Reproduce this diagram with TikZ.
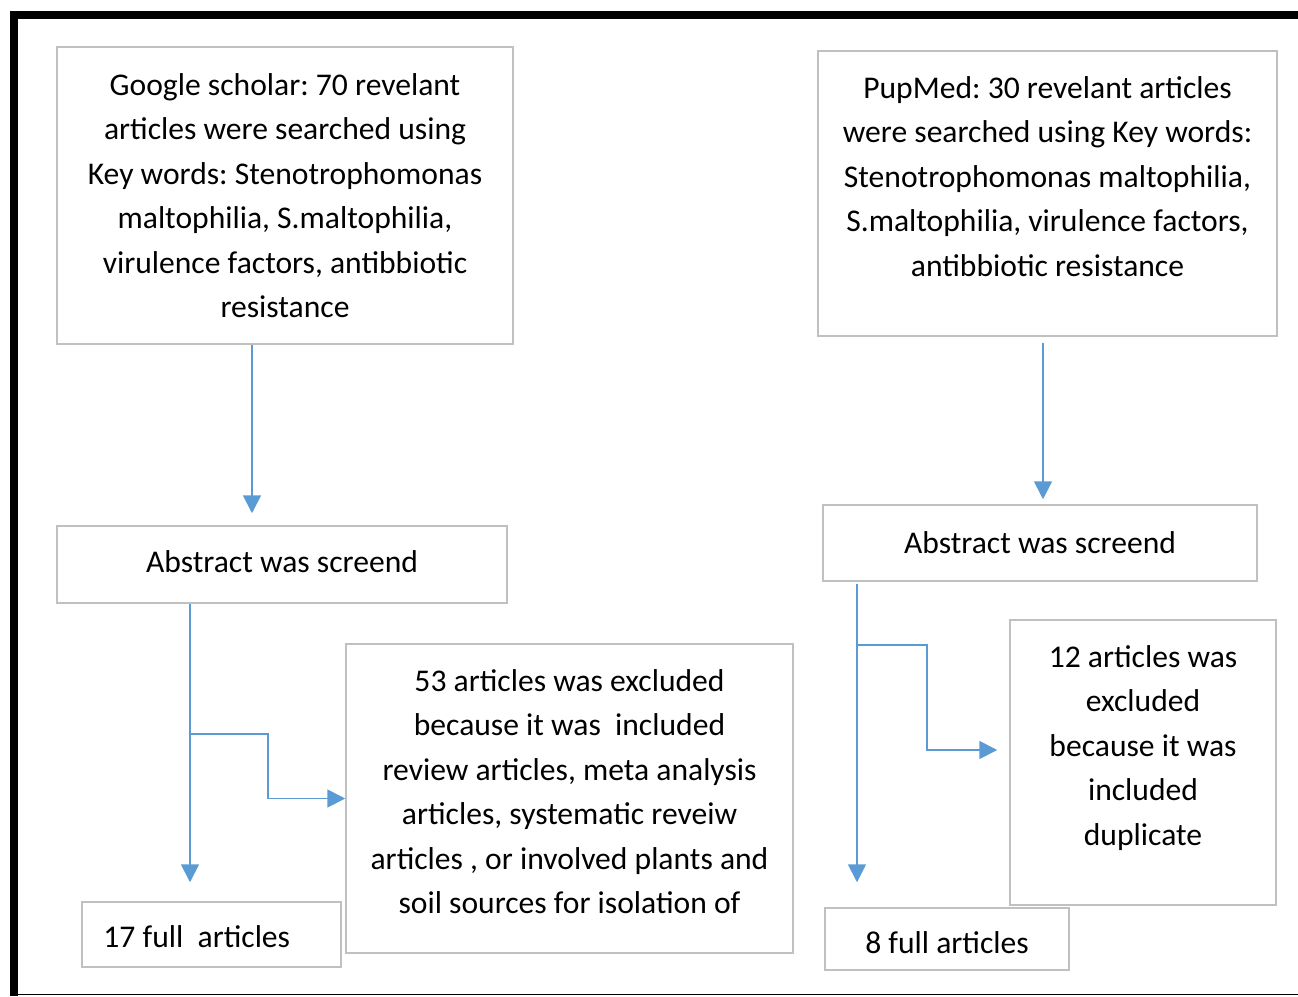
\documentclass[tikz,border=0pt]{standalone}
\usepackage{fontspec}
\setmainfont{Carlito}
\usepackage{xcolor}
\usetikzlibrary{arrows.meta, calc, positioning}

\definecolor{boxgray}{HTML}{C0C0C0}
\definecolor{flowblue}{HTML}{5B9BD5}
\frenchspacing

\begin{document}
\begin{tikzpicture}[x=1pt, y=-1pt,
        box/.style={draw=boxgray, line width=1.5pt, rectangle, inner sep=0pt, align=center,
            font=\fontsize{31.6}{44.5}\selectfont},
        txt/.style={inner sep=0pt, align=center, font=\fontsize{31.6}{44.5}\selectfont},
        flow/.style={draw=flowblue, line width=1.8pt, -{Triangle[length=18pt, width=18pt]}}]
    \useasboundingbox (0,0) rectangle (1298,996);

    % frame
    \fill (10,11) rectangle (1298,19);
    \fill (10,11) rectangle (18,996);
    \draw[line width=1.2pt] (10,994.5) -- (1298,994.5);

    % left column
    \node[box, minimum width=456pt, minimum height=297pt] (gs) at (285,195.5)
        {Google scholar: 70 revelant\\articles were searched using\\Key words: Stenotrophomonas\\maltophilia, S.maltophilia,\\virulence factors, antibbiotic\\resistance};
    \node[box, minimum width=450pt, minimum height=77pt] (absl) at (282,564.5) {};
    \node[txt] (absl text) at ($(absl.center)+(0,-3)$) {Abstract was screend};
    \node[box, minimum width=447pt, minimum height=309pt] (exc53) at (569.5,798.5) {};
    \node[txt, anchor=north] (exc53 text) at ($(exc53.north)+(0,26)$)
        {53 articles was excluded\\because it was~ included\\review articles, meta analysis\\articles, systematic reveiw\\articles , or involved plants and\\soil sources for isolation of};
    \node[box, minimum width=259pt, minimum height=65pt] (full17) at (211.5,934.5) {};
    \node[txt, anchor=west] (full17 text) at ($(full17.west)+(22,2)$) {17 full\ \ articles};

    % right column
    \node[box, minimum width=459pt, minimum height=285pt] (pm) at (1047.5,193.5) {};
    \node[txt, anchor=north] (pm text) at ($(pm.north)+(0,26)$)
        {PupMed: 30 revelant articles\\were searched using Key words:\\Stenotrophomonas maltophilia,\\S.maltophilia, virulence factors,\\antibbiotic resistance};
    \node[box, minimum width=434pt, minimum height=76pt] (absr) at (1040,543) {Abstract was screend};
    \node[box, minimum width=266pt, minimum height=285pt] (exc12) at (1143,762.5) {};
    \node[txt, anchor=north] (exc12 text) at ($(exc12.north)+(0,26)$)
        {12 articles was\\excluded\\because it was\\included\\duplicate};
    \node[box, minimum width=244pt, minimum height=62pt] (full8) at (947,939) {};
    \node[txt] (full8 text) at ($(full8.center)+(0,4)$) {8 full articles};

    % connectors
    \draw[flow, shorten >=12pt] ([xshift=-33pt]gs.south) -- ([xshift=-33pt]gs.south |- absl.north);
    \draw[flow, shorten >=19pt] ([xshift=-92pt]absl.south) -- ([xshift=-92pt]absl.south |- full17.north);
    \coordinate (lsplit) at ($(absl.south)+(-92,130)$);
    \draw[flow] (lsplit) -- ++(78,0) |- (exc53.west);

    \draw[flow, shorten <=6pt, shorten >=5pt] ([xshift=-4.5pt]pm.south) -- ([xshift=-4.5pt]pm.south |- absr.north);
    \draw[flow, shorten <=2pt, shorten >=25pt] ([xshift=-183pt]absr.south) -- ([xshift=-183pt]absr.south |- full8.north);
    \coordinate (rsplit) at ($(absr.south)+(-183,63)$);
    \draw[flow, shorten >=12pt] (rsplit) -- ++(70,0) |- ($(exc12.west)+(0,-12.5)$);
\end{tikzpicture}
\end{document}
